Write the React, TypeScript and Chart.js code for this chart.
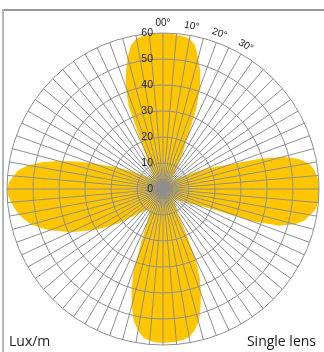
import React, { useEffect, useRef } from 'react';
import { Chart, registerables } from 'chart.js';

Chart.register(...registerables);

// Angular step between samples (degrees, clockwise from top)
const ANGLE_STEP = 2.5;

// Lux/m values, one per 2.5° step
// 0° .. 87.5°
const luxQ1 = [
  60, 59.9, 59.6, 59.3, 58.8, 56.7, 52.3, 47.6, 41.8, 33.4, 23.5, 17.5,
  13.8, 10.5, 8.5, 7, 6, 5.5, 5, 5, 5.5, 6.5, 7.5, 9,
  11, 14, 18.4, 22.5, 27.5, 38.5, 48, 53.5, 57, 58.5, 59.4, 59.9,
];
// 90° .. 177.5°
const luxQ2 = [
  60, 60, 59.8, 59.3, 57.5, 55.8, 52.5, 47, 36, 19, 15, 12.5,
  10.5, 9, 8, 7, 6.5, 6, 6, 6.5, 7, 8, 9, 10.5,
  12.8, 18.8, 29.5, 37, 42.7, 48, 53, 55.8, 57.8, 58.6, 59, 59.1,
];
// 180° .. 267.5°
const luxQ3 = [
  59.2, 59.1, 58.6, 57.7, 55.3, 52, 46.5, 40.3, 32.8, 21, 15, 12,
  10, 9.5, 9.5, 10, 11, 12, 13, 15.5, 18, 21.8, 25, 28.5,
  31.7, 35.2, 39.3, 42.5, 46.3, 49.5, 52.5, 54.5, 56.3, 57.6, 58.6, 59.6,
];
// 270° .. 357.5°
const luxQ4 = [
  60, 59.3, 57.8, 56, 52.6, 47.7, 41.6, 35.2, 29.2, 23.3, 19.5, 16,
  12.8, 10.5, 9, 7.5, 6.5, 6, 5.5, 5.5, 6, 6.5, 7.5, 9,
  11, 13.5, 18.6, 34.5, 42, 47.3, 52.5, 56.7, 58.8, 59.3, 59.6, 59.9,
];

const luxValues = [...luxQ1, ...luxQ2, ...luxQ3, ...luxQ4];
const angleCategories = luxValues.map((_, i) => `${i * ANGLE_STEP}°`);

const radialTicks = [0, 10, 20, 30, 40, 50, 60];
const angleTickDegrees = [0, 10, 20, 30];
const angleTickLabels = ['00°', '10°', '20°', '30°'];
const unitLabel = 'Lux/m';
const lensLabel = 'Single lens';

const GRID = '#8e8e8e';
const FILL = '#ffc600';

const overlayPlugin = {
  id: 'overlayText',
  afterDraw(chart: any) {
    const s = chart.scales.r;
    const ctx = chart.ctx as CanvasRenderingContext2D;
    ctx.save();
    ctx.fillStyle = '#222';
    ctx.font = '10.5px "Liberation Sans", Arial, sans-serif';
    ctx.textAlign = 'right';
    ctx.textBaseline = 'middle';
    radialTicks.forEach((v) => {
      const d = s.getDistanceFromCenterForValue(v);
      ctx.fillText(String(v), s.xCenter - 10, s.yCenter - d);
    });

    ctx.font = '10px "Liberation Sans", Arial, sans-serif';
    ctx.textAlign = 'center';
    angleTickDegrees.forEach((deg, k) => {
      const idx = deg / ANGLE_STEP;
      const p = s.getPointPosition(idx, s.drawingArea + 9.5);
      const a = s.getIndexAngle(idx);
      ctx.save();
      ctx.translate(p.x, p.y);
      ctx.rotate(a);
      ctx.fillText(angleTickLabels[k], 0, 0);
      ctx.restore();
    });

    ctx.fillStyle = '#1a1a1a';
    ctx.font = '14px "Open Sans", sans-serif';
    ctx.textBaseline = 'alphabetic';
    ctx.textAlign = 'left';
    ctx.fillText(unitLabel, 9, 346);
    ctx.textAlign = 'right';
    ctx.fillText(lensLabel, 316, 346);
    ctx.restore();
  },
};

export default function App() {
  const canvasRef = useRef<HTMLCanvasElement | null>(null);

  useEffect(() => {
    if (!canvasRef.current) return;
    const chart = new Chart(canvasRef.current, {
      type: 'radar',
      data: {
        labels: angleCategories,
        datasets: [
          {
            data: luxValues,
            backgroundColor: FILL,
            borderWidth: 0,
            borderColor: 'rgba(0,0,0,0)',
            pointRadius: 0,
            pointHoverRadius: 0,
            fill: 'origin',
            tension: 0,
          },
        ],
      },
      options: {
        animation: false,
        responsive: false,
        events: [],
        layout: { padding: { left: 7, right: 5, top: 33, bottom: 7 } },
        plugins: { legend: { display: false }, tooltip: { enabled: false } },
        scales: {
          r: {
            min: 0,
            max: 60,
            startAngle: 0,
            ticks: { display: false, stepSize: 10 },
            pointLabels: { display: false },
            grid: { circular: true, color: GRID, lineWidth: 1, z: 1 },
            angleLines: {
              display: true,
              color: (c: any) => (c.index % 2 === 0 ? GRID : 'rgba(0,0,0,0)'),
              lineWidth: (c: any) => (c.index % 2 === 0 ? 1 : 0),
            },
          },
        },
      } as any,
      plugins: [overlayPlugin],
    });
    return () => chart.destroy();
  }, []);

  return (
    <div
      style={{
        position: 'fixed',
        left: 0,
        top: 0,
        width: 324,
        height: 352,
        background: '#fff',
        overflow: 'hidden',
      }}
    >
      <div style={{ position: 'absolute', left: 2, top: 9, width: 322, height: 2, background: '#999' }} />
      <div style={{ position: 'absolute', left: 2, top: 9, width: 2, height: 343, background: '#b5b5b5' }} />
      <canvas
        ref={canvasRef}
        width={324}
        height={352}
        style={{ position: 'absolute', left: 0, top: 0, width: 324, height: 352, display: 'block' }}
      />
    </div>
  );
}
